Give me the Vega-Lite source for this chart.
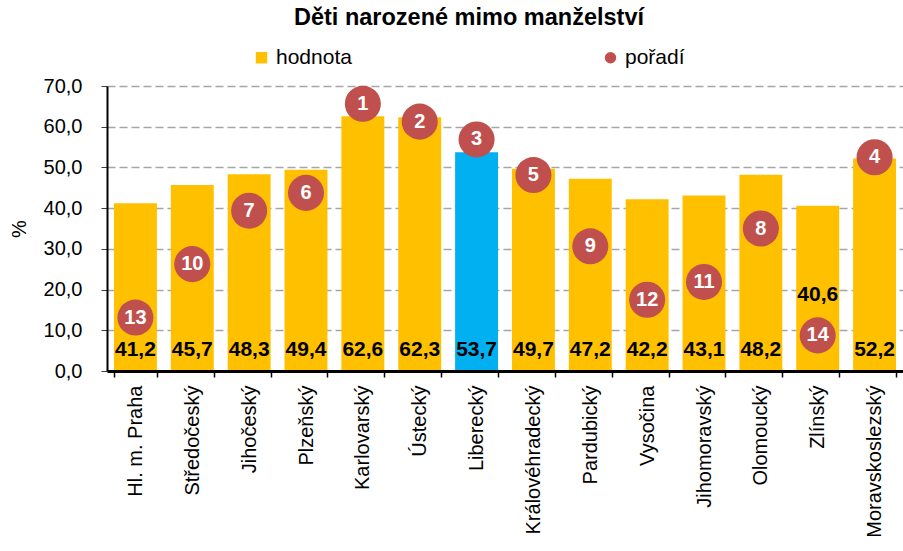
{
  "$schema": "https://vega.github.io/schema/vega-lite/v6.json",
  "autosize": {"type": "none"},
  "width": 796,
  "height": 285,
  "padding": {"left": 107, "top": 86, "right": 0, "bottom": 180},
  "background": "white",
  "config": {
    "font": "Liberation Sans",
    "locale": {"number": {"decimal": ",", "thousands": " ", "grouping": [3], "currency": ["", " Kč"]}},
    "view": {"stroke": null}
  },
  "title": {
    "text": "Děti narozené mimo manželství",
    "font": "Liberation Sans",
    "fontSize": 23.5,
    "fontWeight": "bold",
    "color": "black",
    "anchor": "middle",
    "dx": -36,
    "baseline": "alphabetic",
    "offset": -1
  },
  "data": {
    "values": [
      {"kraj": "Hl. m. Praha", "hodnota": 41.2, "poradi": 13},
      {"kraj": "Středočeský", "hodnota": 45.7, "poradi": 10},
      {"kraj": "Jihočeský", "hodnota": 48.3, "poradi": 7},
      {"kraj": "Plzeňský", "hodnota": 49.4, "poradi": 6},
      {"kraj": "Karlovarský", "hodnota": 62.6, "poradi": 1},
      {"kraj": "Ústecký", "hodnota": 62.3, "poradi": 2},
      {"kraj": "Liberecký", "hodnota": 53.7, "poradi": 3},
      {"kraj": "Královéhradecký", "hodnota": 49.7, "poradi": 5},
      {"kraj": "Pardubický", "hodnota": 47.2, "poradi": 9},
      {"kraj": "Vysočina", "hodnota": 42.2, "poradi": 12},
      {"kraj": "Jihomoravský", "hodnota": 43.1, "poradi": 11},
      {"kraj": "Olomoucký", "hodnota": 48.2, "poradi": 8},
      {"kraj": "Zlínský", "hodnota": 40.6, "poradi": 14},
      {"kraj": "Moravskoslezský", "hodnota": 52.2, "poradi": 4}
    ]
  },
  "encoding": {
    "x": {
      "field": "kraj",
      "type": "nominal",
      "sort": null,
      "scale": {"paddingInner": 0.245, "paddingOuter": 0.1225},
      "axis": {
        "title": null,
        "labelAngle": -90,
        "labelFontSize": 20,
        "labelColor": "black",
        "labelPadding": 8,
        "tickBand": "extent",
        "tickColor": "black",
        "tickSize": 6,
        "tickWidth": 1.5,
        "domainColor": "black",
        "domainWidth": 3,
        "zindex": 1
      }
    }
  },
  "layer": [
    {
      "layer": [
        {
          "mark": {"type": "bar"},
          "encoding": {
            "y": {
              "field": "hodnota",
              "type": "quantitative",
              "scale": {"domain": [0, 70]},
              "axis": {
                "title": "%",
                "titleFontSize": 20,
                "titleFontWeight": "normal",
                "titleColor": "black",
                "titlePadding": 14,
                "values": [0, 10, 20, 30, 40, 50, 60, 70],
                "format": ".1f",
                "labelFontSize": 20,
                "labelColor": "black",
                "labelPadding": 19,
                "labelOverlap": false,
                "tickColor": "#404040",
                "tickSize": 6,
                "domainColor": "black",
                "domainWidth": 2,
                "grid": true,
                "gridColor": "#A6A6A6",
                "gridWidth": 1.5,
                "gridDash": [8, 4]
              }
            },
            "color": {
              "condition": {"test": "datum.kraj === 'Liberecký'", "value": "#00B0F0"},
              "datum": "hodnota",
              "type": "nominal",
              "scale": {"domain": ["hodnota", "pořadí"], "range": ["#FFC000", "#C0504D"]},
              "legend": {
                "title": null,
                "orient": "none",
                "legendX": 144,
                "legendY": -39,
                "direction": "horizontal",
                "labelFontSize": 21,
                "labelColor": "black",
                "symbolSize": 130,
                "columnPadding": 248,
                "labelOffset": 4,
                "encode": {
                  "symbols": {
                    "update": {
                      "shape": {"signal": "datum.value === 'hodnota' ? 'square' : 'circle'"},
                      "strokeWidth": {"value": 0}
                    }
                  }
                }
              }
            }
          }
        },
        {
          "transform": [{"filter": "datum.kraj !== 'Zlínský'"}],
          "mark": {"type": "text", "fontSize": 21, "fontWeight": "bold", "color": "black", "baseline": "middle"},
          "encoding": {
            "y": {
              "datum": 5.2,
              "type": "quantitative",
              "axis": {
                "title": "%",
                "titleFontSize": 20,
                "titleFontWeight": "normal",
                "titleColor": "black",
                "titlePadding": 14,
                "values": [0, 10, 20, 30, 40, 50, 60, 70],
                "format": ".1f",
                "labelFontSize": 20,
                "labelColor": "black",
                "labelPadding": 19,
                "labelOverlap": false,
                "tickColor": "#404040",
                "tickSize": 6,
                "domainColor": "black",
                "domainWidth": 2,
                "grid": true,
                "gridColor": "#A6A6A6",
                "gridWidth": 1.5,
                "gridDash": [8, 4]
              }
            },
            "text": {"field": "hodnota", "type": "quantitative", "format": ".1f"}
          }
        },
        {
          "transform": [{"filter": "datum.kraj === 'Zlínský'"}],
          "mark": {"type": "text", "fontSize": 21, "fontWeight": "bold", "color": "black", "baseline": "middle"},
          "encoding": {
            "y": {
              "datum": 18.7,
              "type": "quantitative",
              "axis": {
                "title": "%",
                "titleFontSize": 20,
                "titleFontWeight": "normal",
                "titleColor": "black",
                "titlePadding": 14,
                "values": [0, 10, 20, 30, 40, 50, 60, 70],
                "format": ".1f",
                "labelFontSize": 20,
                "labelColor": "black",
                "labelPadding": 19,
                "labelOverlap": false,
                "tickColor": "#404040",
                "tickSize": 6,
                "domainColor": "black",
                "domainWidth": 2,
                "grid": true,
                "gridColor": "#A6A6A6",
                "gridWidth": 1.5,
                "gridDash": [8, 4]
              }
            },
            "text": {"field": "hodnota", "type": "quantitative", "format": ".1f"}
          }
        }
      ]
    },
    {
      "layer": [
        {
          "mark": {"type": "circle", "size": 1300, "opacity": 1},
          "encoding": {
            "y": {"field": "poradi", "type": "quantitative", "scale": {"domain": [0, 16], "reverse": true}, "axis": null},
            "color": {"datum": "pořadí", "type": "nominal"}
          }
        },
        {
          "mark": {"type": "text", "fontSize": 20, "fontWeight": "bold", "color": "white", "baseline": "middle"},
          "encoding": {
            "y": {"field": "poradi", "type": "quantitative", "scale": {"domain": [0, 16], "reverse": true}, "axis": null},
            "text": {"field": "poradi", "type": "quantitative"}
          }
        }
      ]
    }
  ],
  "resolve": {"scale": {"y": "independent"}}
}
